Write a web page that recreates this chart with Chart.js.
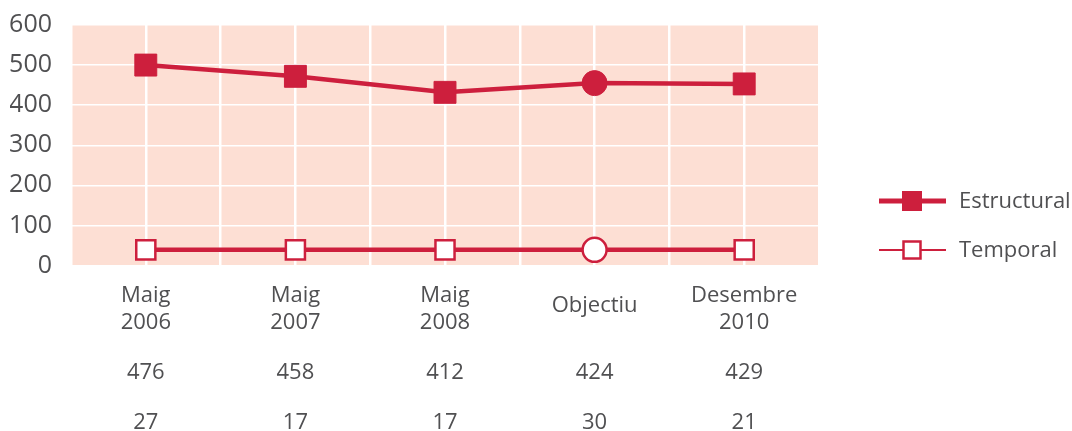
<!DOCTYPE html>
<html>
<head>
<meta charset="utf-8">
<script src="https://cdn.jsdelivr.net/npm/chart.js@4.4.1/dist/chart.umd.min.js"></script>
<style>
  html, body { margin: 0; padding: 0; background: #fff; }
  #wrap { width: 1072px; height: 431px; }
</style>
</head>
<body>
<div id="wrap"><canvas id="chart"></canvas></div>
<script>
const categories = [['Maig', '2006'], ['Maig', '2007'], ['Maig', '2008'], ['Objectiu'], ['Desembre', '2010']];
const estructural = [500, 472, 432, 455, 453];
const temporal = [39, 39, 39, 39, 39];
const estructuralTable = ['476', '458', '412', '424', '429'];
const temporalTable = ['27', '17', '17', '30', '21'];
const yTicks = [0, 100, 200, 300, 400, 500, 600];

const RED = '#cd1f3d';
const PINK = '#fddfd4';
const TEXT = '#505052';
const FONT = '"Open Sans", sans-serif';

const pointStyles = categories.map(c => c[0] === 'Objectiu' ? 'circle' : 'rect');

const plotBg = {
  id: 'plotBg',
  beforeDraw(chart) {
    const { ctx, chartArea: a } = chart;
    ctx.save();
    ctx.fillStyle = PINK;
    ctx.fillRect(a.left, a.top, a.right - a.left, a.bottom - a.top);
    ctx.restore();
  }
};

// category labels and the two value rows under the plot
const bottomText = {
  id: 'bottomText',
  afterDraw(chart) {
    const { ctx, chartArea: a, scales } = chart;
    ctx.save();
    ctx.fillStyle = TEXT;
    ctx.font = '22px ' + FONT;
    ctx.textAlign = 'center';
    ctx.textBaseline = 'alphabetic';
    categories.forEach((lines, i) => {
      const x = scales.x.getPixelForValue(i);
      if (lines.length === 1) {
        ctx.fillText(lines[0], x, a.bottom + 46);
      } else {
        ctx.fillText(lines[0], x, a.bottom + 36);
        ctx.fillText(lines[1], x, a.bottom + 63);
      }
      ctx.fillText(estructuralTable[i], x, a.bottom + 113);
      ctx.fillText(temporalTable[i], x, a.bottom + 163);
    });
    ctx.restore();
  }
};

const sideLegend = {
  id: 'sideLegend',
  afterDraw(chart) {
    const { ctx, chartArea: a } = chart;
    const x0 = a.right + 60, x1 = a.right + 127, xm = a.right + 93;
    ctx.save();
    ctx.font = '22px ' + FONT;
    ctx.textBaseline = 'middle';
    ctx.textAlign = 'left';
    chart.data.datasets.forEach((ds, i) => {
      const y = i === 0 ? 201 : 250;
      ctx.strokeStyle = RED;
      ctx.lineWidth = i === 0 ? 5 : 2;
      ctx.beginPath();
      ctx.moveTo(x0, y);
      ctx.lineTo(x1, y);
      ctx.stroke();
      const s = i === 0 ? 20 : 17;
      ctx.fillStyle = ds.pointBackgroundColor;
      ctx.fillRect(xm - s / 2, y - s / 2, s, s);
      if (i === 1) {
        ctx.lineWidth = 2.5;
        ctx.strokeRect(xm - s / 2, y - s / 2, s, s);
      }
      ctx.fillStyle = TEXT;
      ctx.fillText(ds.label, a.right + 140, y + 1);
    });
    ctx.restore();
  }
};

new Chart(document.getElementById('chart'), {
  type: 'line',
  data: {
    datasets: [
      {
        label: 'Estructural',
        data: estructural.map((v, i) => ({ x: i, y: v })),
        borderColor: RED,
        borderWidth: 4.5,
        pointStyle: pointStyles,
        pointRadius: pointStyles.map(p => p === 'circle' ? 12.5 : 15.5),
        pointBackgroundColor: RED,
        pointBorderColor: RED,
        pointBorderWidth: 1
      },
      {
        label: 'Temporal',
        data: temporal.map((v, i) => ({ x: i, y: v })),
        borderColor: RED,
        borderWidth: 4.5,
        pointStyle: pointStyles,
        pointRadius: pointStyles.map(p => p === 'circle' ? 12 : 13.5),
        pointBackgroundColor: '#ffffff',
        pointBorderColor: RED,
        pointBorderWidth: 2.5
      }
    ]
  },
  options: {
    responsive: true,
    maintainAspectRatio: false,
    animation: false,
    layout: { autoPadding: false, padding: { left: 10, top: 25, right: 253, bottom: 165.5 } },
    plugins: { legend: { display: false }, tooltip: { enabled: false } },
    scales: {
      x: {
        type: 'linear',
        min: -0.5,
        max: 4.5,
        ticks: { display: false, stepSize: 0.5 },
        grid: { color: '#ffffff', lineWidth: 2.5, drawTicks: false },
        border: { display: false }
      },
      y: {
        min: 0,
        max: 600,
        afterBuildTicks(scale) { scale.ticks = yTicks.map(v => ({ value: v })); },
        afterFit(scale) {
          scale.width = 61;
          scale.paddingTop = 0;
          scale.paddingBottom = 0;
        },
        ticks: { color: TEXT, font: { family: FONT, size: 25 }, padding: 19 },
        grid: { color: '#ffffff', lineWidth: 1.5, drawTicks: false },
        border: { display: false }
      }
    }
  },
  plugins: [plotBg, bottomText, sideLegend]
});
</script>
</body>
</html>
